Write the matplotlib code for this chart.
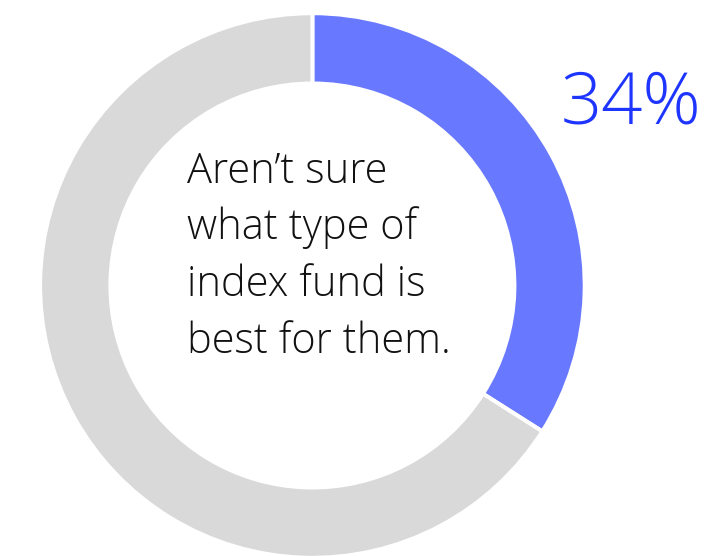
import matplotlib
matplotlib.use("Agg")
import matplotlib.pyplot as plt

# Data
categories = ["Aren’t sure", "Other"]
values = [34, 66]
label_text = "34%"
center_lines = ["Aren’t sure", "what type of", "index fund is", "best for them."]

# Style
colors = ["#6979FF", "#D9D9D9"]
label_color = "#1E35FF"
text_color = "#111111"
FONT = "Open Sans"

W, H = 708, 556
fig = plt.figure(figsize=(W / 100, H / 100), dpi=100)
ax = fig.add_axes([0, 0, 1, 1])

cx, cy = 312.4, H - 285.5
r_out = 270.3
r_in = 204.0
edge_px = 4.0
lw = edge_px * 72 / 100

ax.pie(values, colors=colors, startangle=90, counterclock=False,
       center=(cx, cy), radius=r_out + edge_px / 2,
       wedgeprops=dict(width=(r_out - r_in) + edge_px, edgecolor="white",
                       linewidth=lw),
       frame=True)
ax.set_xlim(0, W)
ax.set_ylim(0, H)
ax.set_aspect("equal")
ax.axis("off")

ax.text(631, H - 105, label_text, color=label_color, fontsize=52,
        family=FONT, weight="light", ha="center", va="center")

base_y = H - 182.7
step = 56.7
for i, line in enumerate(center_lines):
    ax.text(187, base_y - i * step, line, color=text_color, fontsize=30,
            family=FONT, weight="light", ha="left", va="baseline")

fig.savefig("out.png", dpi=100, facecolor="white")
